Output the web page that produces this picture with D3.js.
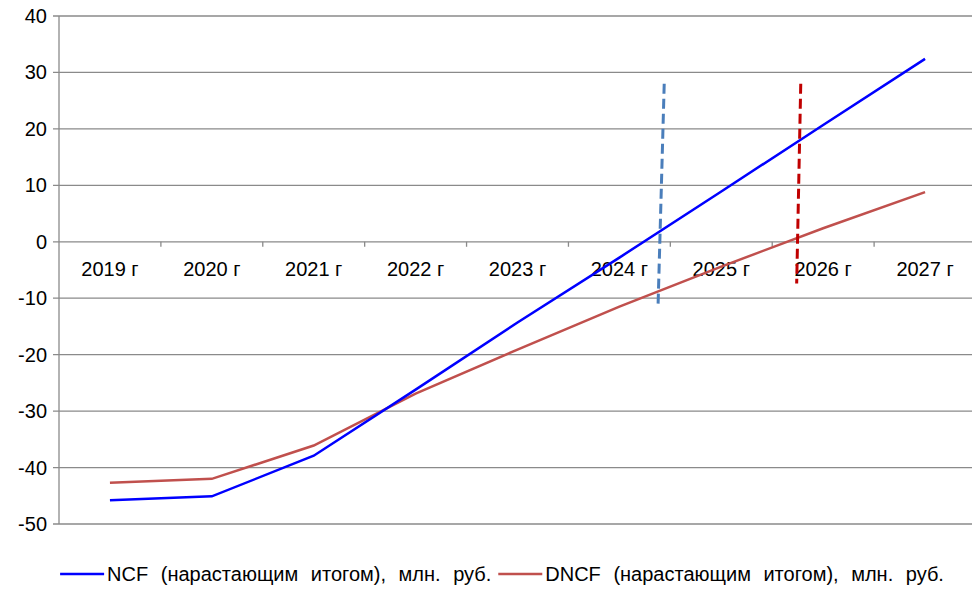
<!DOCTYPE html>
<html>
<head>
<meta charset="utf-8">
<script src="https://cdn.jsdelivr.net/npm/d3@7"></script>
<style>
  body { margin: 0; background: #fff; }
  text { font-family: "Liberation Sans", Arial, sans-serif; fill: #000; }
</style>
</head>
<body>
<script>
// categories and series
const years = ["2019 г", "2020 г", "2021 г", "2022 г", "2023 г", "2024 г", "2025 г", "2026 г", "2027 г"];
const ncf = [-45.8, -45.1, -37.9, -26.2, -14.3, -2.8, 8.9, 20.7, 32.4];
const dncf = [-42.7, -42.0, -36.1, -26.9, -19.1, -11.5, -4.4, 2.4, 8.8];
const yTicks = [40, 30, 20, 10, 0, -10, -20, -30, -40, -50];
const seriesNames = ["NCF (нарастающим итогом), млн. руб.", "DNCF (нарастающим итогом), млн. руб."];
// payback markers: [category index, value] at top and bottom
const markerNCF = [[5.44, 28], [5.38, -11]];
const markerDNCF = [[6.78, 28], [6.74, -7.4]];

var width = 972, height = 593;
var plotLeft = 59, plotRight = 976, plotTop = 16, plotBottom = 524;

var svg = d3.select("body").append("svg")
  .attr("width", width)
  .attr("height", height);

var x = d3.scaleBand().domain(years).range([plotLeft, plotRight]);
var xi = d3.scaleLinear().domain([-0.5, years.length - 0.5]).range([plotLeft, plotRight]);
var y = d3.scaleLinear().domain([-50, 40]).range([plotBottom, plotTop]);

// horizontal gridlines
svg.append("g")
  .selectAll("line")
  .data(yTicks)
  .enter().append("line")
  .attr("x1", plotLeft - 6)
  .attr("x2", plotRight)
  .attr("y1", d => y(d))
  .attr("y2", d => y(d))
  .attr("stroke", "#8a8a8a")
  .attr("stroke-width", 1.3);

// y axis line
svg.append("line")
  .attr("x1", plotLeft).attr("x2", plotLeft)
  .attr("y1", plotTop).attr("y2", plotBottom)
  .attr("stroke", "#8a8a8a")
  .attr("stroke-width", 1.3);

// y labels
svg.append("g")
  .selectAll("text")
  .data(yTicks)
  .enter().append("text")
  .attr("x", 47)
  .attr("y", d => y(d))
  .attr("dy", "0.35em")
  .attr("text-anchor", "end")
  .attr("font-size", 20)
  .text(d => d);

// category ticks on the zero line
svg.append("g")
  .selectAll("line")
  .data(years.slice(1))
  .enter().append("line")
  .attr("x1", d => x(d))
  .attr("x2", d => x(d))
  .attr("y1", y(0))
  .attr("y2", y(0) + 5)
  .attr("stroke", "#8a8a8a")
  .attr("stroke-width", 1.3);

// category labels
svg.append("g")
  .selectAll("text")
  .data(years)
  .enter().append("text")
  .attr("x", d => x(d) + x.bandwidth() / 2)
  .attr("y", y(0) + 27)
  .attr("dy", "0.35em")
  .attr("text-anchor", "middle")
  .attr("font-size", 20)
  .text(d => d);

var line = d3.line()
  .x((d, i) => x(years[i]) + x.bandwidth() / 2)
  .y(d => y(d));

svg.append("path")
  .datum(dncf)
  .attr("d", line)
  .attr("fill", "none")
  .attr("stroke", "#c0504d")
  .attr("stroke-width", 2.5);

svg.append("path")
  .datum(ncf)
  .attr("d", line)
  .attr("fill", "none")
  .attr("stroke", "#0000ff")
  .attr("stroke-width", 2.5);

// payback dashed markers
var markerLine = d3.line()
  .x(d => xi(d[0]))
  .y(d => y(d[1]));

svg.append("path")
  .datum(markerNCF)
  .attr("d", markerLine)
  .attr("stroke", "#4a7ebb")
  .attr("stroke-width", 3)
  .attr("stroke-dasharray", "10,5")
  .attr("fill", "none");

svg.append("path")
  .datum(markerDNCF)
  .attr("d", markerLine)
  .attr("stroke", "#c00000")
  .attr("stroke-width", 3)
  .attr("stroke-dasharray", "10,5")
  .attr("fill", "none");

// legend
var legendColors = ["#0000ff", "#c0504d"];
var legend = svg.append("g");
var lx = 0;
seriesNames.forEach(function (name, i) {
  var g = legend.append("g").attr("transform", "translate(" + lx + ",0)");
  g.append("line")
    .attr("x1", 0).attr("x2", 44)
    .attr("y1", 0).attr("y2", 0)
    .attr("stroke", legendColors[i])
    .attr("stroke-width", 2.5);
  var t = g.append("text")
    .attr("x", 47)
    .attr("dy", "0.35em")
    .attr("font-size", 20)
    .attr("word-spacing", 7)
    .text(name);
  lx += 47 + t.node().getComputedTextLength() + 7;
});
legend.attr("transform", "translate(" + (502 - (lx - 7) / 2) + ",574)");
</script>
</body>
</html>
